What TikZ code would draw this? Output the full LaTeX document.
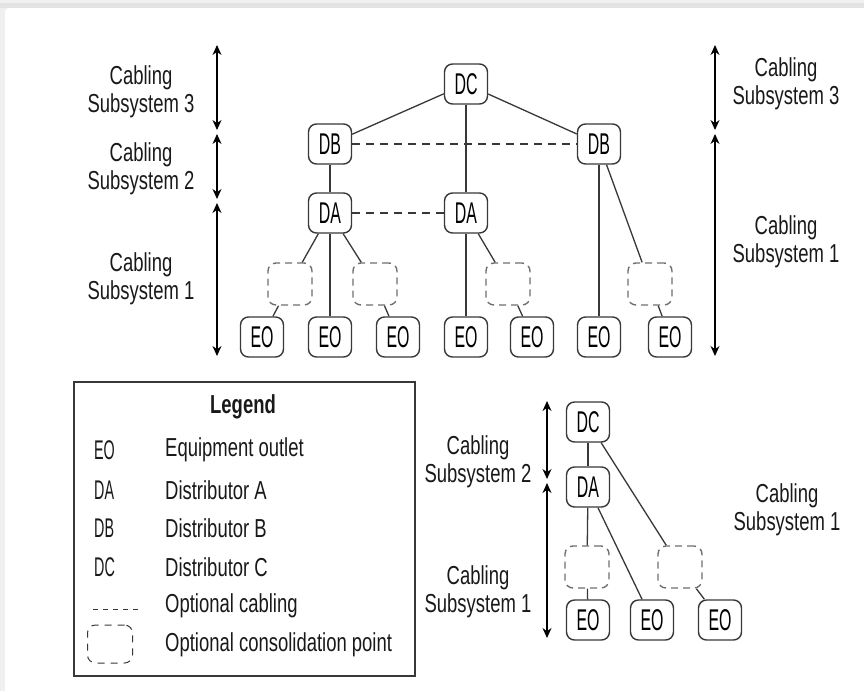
\documentclass[tikz,border=0pt]{standalone}
\usepackage{fontspec}
\setmainfont{Liberation Sans}[FakeStretch=0.71]
\newfontfamily\boxfont{Liberation Sans}[FakeStretch=0.53]
\usetikzlibrary{arrows.meta}

\definecolor{ink}{HTML}{383838}
\definecolor{cpgray}{HTML}{707070}

\tikzset{
  unit/.style={draw=ink, line width=1.4pt, rounded corners=8pt,
    minimum width=43pt, minimum height=40pt, inner sep=0pt,
    font=\boxfont\fontsize{30}{32}\selectfont},
  cpoint/.style={draw=cpgray, line width=1.4pt, rounded corners=8pt,
    dash pattern=on 7pt off 5pt, minimum width=44pt, minimum height=42pt, inner sep=0pt},
  link/.style={draw=ink, line width=1.3pt},
  optlink/.style={draw=ink, line width=1.1pt, dash pattern=on 8pt off 6pt},
  span/.style={draw=black, line width=1.1pt, {Stealth[length=10pt,width=9pt]}-{Stealth[length=10pt,width=9pt]}},
  caption/.style={align=center, inner sep=0pt, text=black!90,
    font=\fontsize{26}{28}\selectfont},
  legtext/.style={anchor=west, inner sep=0pt, text=black!90,
    font=\fontsize{26}{28}\selectfont},
  legkey/.style={anchor=west, inner sep=0pt, text=black!90,
    font=\boxfont\fontsize{27}{28}\selectfont},
}

\begin{document}
\begin{tikzpicture}[x=1pt,y=-1pt]
  \useasboundingbox (0,0) rectangle (864,691);
  % page edge
  \fill[gray!12] (0,0) rectangle (864,691);
  \fill[gray!22] (0,3) rectangle (864,8);
  \begin{scope}
    \clip (0,0) rectangle (864,691);
    \fill[white, rounded corners=4pt] (5,8) rectangle (880,700);
  \end{scope}

  % ---------- upper tree ----------
  \node[unit] (dc)  at (466,84)  {DC};
  \node[unit] (dbl) at (330,144) {DB};
  \node[unit] (dbr) at (599,144) {DB};
  \node[unit] (dal) at (330,213) {DA};
  \node[unit] (dam) at (466,213) {DA};

  \node[cpoint] (cp1) at (290,284) {};
  \node[cpoint] (cp2) at (375,284) {};
  \node[cpoint] (cp3) at (508,284) {};
  \node[cpoint] (cp4) at (650,284) {};

  \node[unit] (eo1) at (262,337) {EO};
  \node[unit] (eo2) at (330,337) {EO};
  \node[unit] (eo3) at (398,337) {EO};
  \node[unit] (eo4) at (466,337) {EO};
  \node[unit] (eo5) at (532,337) {EO};
  \node[unit] (eo6) at (599,337) {EO};
  \node[unit] (eo7) at (670,337) {EO};

  \draw[link] (dc) -- (dbl);
  \draw[link] (dc) -- (dbr);
  \draw[link] (dc) -- (dam);
  \draw[link] (dbl) -- (dal);
  \draw[optlink] (dbl) -- (dbr);
  \draw[optlink] (dal) -- (dam);
  \draw[link] (dal) -- (cp1);
  \draw[link] (dal) -- (eo2);
  \draw[link] (dal) -- (cp2);
  \draw[link] (cp1) -- (eo1);
  \draw[link] (cp2) -- (eo3);
  \draw[link] (dam) -- (eo4);
  \draw[link] (dam) -- (cp3);
  \draw[link] (cp3) -- (eo5);
  \draw[link] (dbr) -- (eo6);
  \draw[link] (dbr) -- (cp4);
  \draw[link] (cp4) -- (eo7);

  % subsystem spans, left
  \coordinate (la) at (217,45);
  \coordinate (lb) at (217,130);
  \coordinate (lc) at (217,134);
  \coordinate (ld) at (217,199);
  \coordinate (le) at (217,203);
  \coordinate (lf) at (217,356);
  \draw[span] (la) -- (lb);
  \draw[span] (lc) -- (ld);
  \draw[span] (le) -- (lf);
  \node[caption] (c3l) at (141,92)  {Cabling\\Subsystem 3};
  \node[caption] (c2l) at (141,169) {Cabling\\Subsystem 2};
  \node[caption] (c1l) at (141,279) {Cabling\\Subsystem 1};

  % subsystem spans, right
  \coordinate (ra) at (715,45);
  \coordinate (rb) at (715,130);
  \coordinate (rc) at (715,134);
  \coordinate (rd) at (715,356);
  \draw[span] (ra) -- (rb);
  \draw[span] (rc) -- (rd);
  \node[caption] (c3r) at (786,84)  {Cabling\\Subsystem 3};
  \node[caption] (c1r) at (786,242) {Cabling\\Subsystem 1};

  % ---------- legend ----------
  \node[draw=ink, line width=1.4pt, minimum width=341pt, minimum height=294pt,
        inner sep=0pt] (legbox) at (244.5,529) {};
  \node[inner sep=0pt, text=black!90, font=\bfseries\fontsize{26}{28}\selectfont]
        (legtitle) at (243,407) {Legend};
  \node[legkey] (k1) at (94,450) {EO};
  \node[legkey] (k2) at (94,490) {DA};
  \node[legkey] (k3) at (94,528) {DB};
  \node[legkey] (k4) at (94,567) {DC};
  \node[legtext] (v1) at (165,450) {Equipment outlet};
  \node[legtext] (v2) at (165,490) {Distributor A};
  \node[legtext] (v3) at (165,528) {Distributor B};
  \node[legtext] (v4) at (165,567) {Distributor C};
  \node[legtext] (v5) at (165,606) {Optional cabling};
  \node[legtext] (v6) at (165,645) {Optional consolidation point};
  \coordinate (dsa) at (93,609);
  \coordinate (dsb) at (138,609);
  \draw[draw=ink, line width=1pt, dash pattern=on 5pt off 5pt] (dsa) -- (dsb);
  \node[draw=ink, line width=1pt, rounded corners=8pt, dash pattern=on 7pt off 6pt,
        minimum width=45pt, minimum height=38pt, inner sep=0pt] (kcp) at (110,644) {};

  % ---------- lower tree ----------
  \node[unit] (bdc) at (588,422) {DC};
  \node[unit] (bda) at (588,487) {DA};
  \node[cpoint] (bcp1) at (587,567) {};
  \node[cpoint] (bcp2) at (680,567) {};
  \node[unit] (beo1) at (588,620) {EO};
  \node[unit] (beo2) at (652,620) {EO};
  \node[unit] (beo3) at (720,620) {EO};

  \draw[link] (bdc) -- (bda);
  \draw[link] (bdc) -- (bcp2);
  \draw[link] (bda) -- (bcp1);
  \draw[link] (bda) -- (beo2);
  \draw[link] (bcp1) -- (beo1);
  \draw[link] (bcp2) -- (beo3);

  \coordinate (ba) at (547,401);
  \coordinate (bb) at (547,479);
  \coordinate (bc) at (547,483);
  \coordinate (bd) at (547,638);
  \draw[span] (ba) -- (bb);
  \draw[span] (bc) -- (bd);
  \node[caption] (bc2) at (478,462) {Cabling\\Subsystem 2};
  \node[caption] (bc1) at (478,592) {Cabling\\Subsystem 1};
  \node[caption] (bc1r) at (787,510) {Cabling\\Subsystem 1};
\end{tikzpicture}
\end{document}
